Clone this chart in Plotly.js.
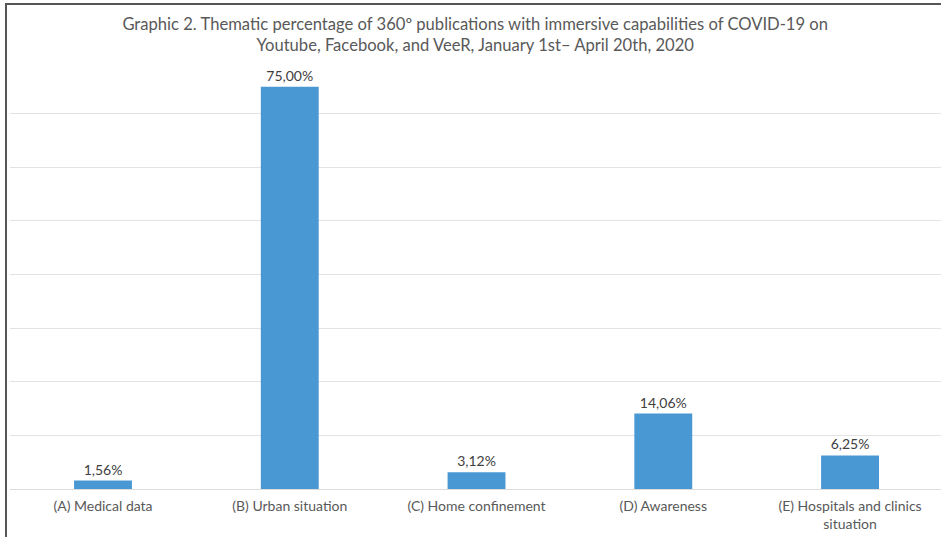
<!DOCTYPE html>
<html>
<head>
<meta charset="utf-8">
<script src="https://cdn.plot.ly/plotly-3.0.1.min.js"></script>
<style>
  body { margin: 0; padding: 0; background: #fff; }
  #wrap { position: relative; width: 941px; height: 537px; overflow: hidden; }
  #chart { position: absolute; left: 0; top: 0; width: 941px; height: 537px; }
  #frame { position: absolute; left: 5px; top: 3px; width: 950px; height: 560px;
           border-left: 2px solid #555; border-top: 2px solid #555; pointer-events: none; }
</style>
</head>
<body>
<div id="wrap">
  <div id="chart"></div>
  <div id="frame"></div>
</div>
<script>
const categories = ["(A) Medical data", "(B) Urban situation", "(C) Home confinement", "(D) Awareness", "(E) Hospitals and clinics<br>situation"];
const values = [1.5625, 75, 3.125, 14.0625, 6.25];
const labels = ["1,56%", "75,00%", "3,12%", "14,06%", "6,25%"];

const font = "Lato, 'Open Sans', sans-serif";

Plotly.newPlot("chart", [{
  type: "bar",
  x: [0, 1, 2, 3, 4],
  y: values,
  text: labels,
  textposition: "outside",
  cliponaxis: false,
  textfont: { family: font, size: 14, color: "#404040" },
  marker: { color: "#4a98d3" },
  width: 0.31,
  hoverinfo: "none"
}], {
  width: 941, height: 537,
  margin: { l: 10, r: 0, t: 60, b: 48 },
  paper_bgcolor: "#fff", plot_bgcolor: "#fff",
  showlegend: false,
  title: {
    text: "Graphic 2. Thematic percentage of 360º publications with immersive capabilities of COVID-19 on<br>Youtube, Facebook, and VeeR, January 1st– April 20th, 2020",
    font: { family: font, size: 16.6, color: "#595959" },
    x: 0.505, xanchor: "center", y: 0.945, yanchor: "top"
  },
  xaxis: {
    range: [-0.498, 4.487],
    tickvals: [0, 1, 2, 3, 4],
    ticktext: categories,
    tickfont: { family: font, size: 14, color: "#595959" },
    ticklabelstandoff: 7,
    showgrid: false, zeroline: false, showline: false,
    ticks: "", ticklen: 0
  },
  yaxis: {
    range: [0, 80], dtick: 10, tick0: 0,
    showticklabels: false,
    showgrid: true, gridcolor: "#e3e3e3", gridwidth: 1,
    zeroline: true, zerolinecolor: "#dcdcdc", zerolinewidth: 1,
    showline: false
  }
}, { displayModeBar: false, staticPlot: true });
</script>
</body>
</html>
